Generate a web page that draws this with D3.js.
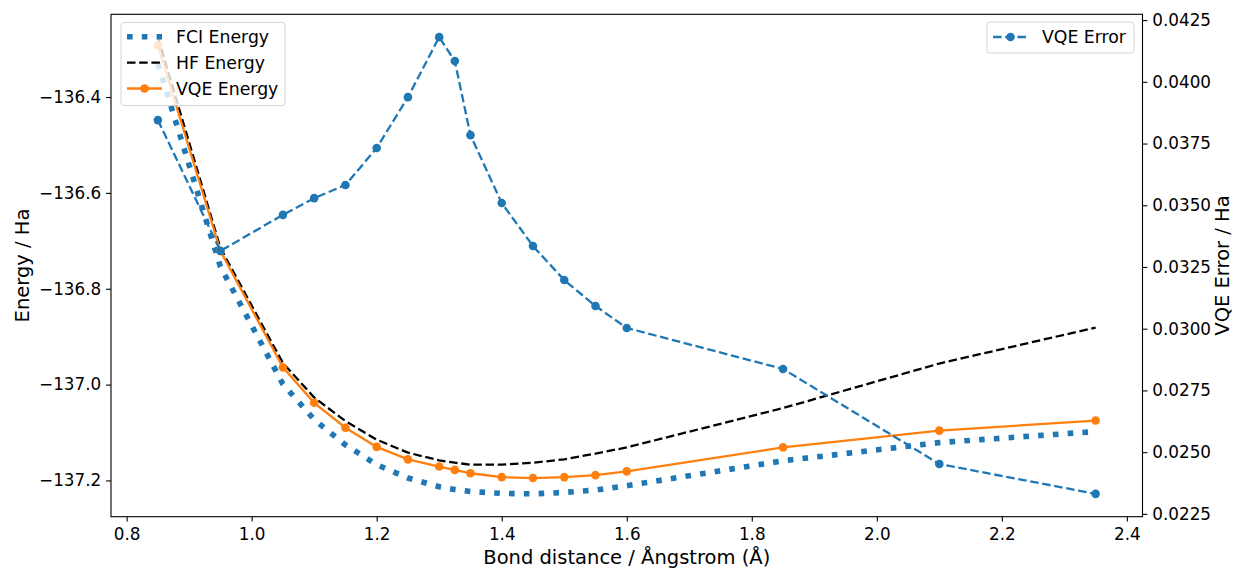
<!DOCTYPE html>
<html>
<head>
<meta charset="utf-8">
<script src="https://cdn.jsdelivr.net/npm/d3@7"></script>
<style>
	body { margin: 0; background: #fff; }
	text { font-family: "DejaVu Sans", sans-serif; fill: #000; }
</style>
</head>
<body>
<div id="chart"></div>
<script>
// bond distances (Å)
const bondDistances = [0.85, 0.95, 1.05, 1.10, 1.15, 1.20, 1.25, 1.30, 1.325, 1.35, 1.40, 1.45, 1.50, 1.55, 1.60, 1.85, 2.10, 2.35];

// energies (Ha)
const fciEnergy = [-136.330, -136.754, -136.999, -137.073, -137.126, -137.167, -137.195, -137.213, -137.219, -137.223, -137.227, -137.228, -137.225, -137.220, -137.211, -137.159, -137.121, -137.098];
const hfEnergy = [-136.275, -136.715, -136.955, -137.027, -137.076, -137.115, -137.142, -137.158, -137.163, -137.167, -137.167, -137.163, -137.156, -137.144, -137.131, -137.049, -136.956, -136.881];
const vqeEnergy = [-136.292, -136.721, -136.964, -137.038, -137.090, -137.130, -137.156, -137.171, -137.178, -137.185, -137.193, -137.195, -137.193, -137.189, -137.181, -137.131, -137.096, -137.075];

// VQE error (Ha), right axis
const vqeError = [0.03845, 0.03315, 0.03461, 0.03529, 0.03582, 0.03732, 0.03938, 0.04181, 0.04084, 0.03784, 0.03509, 0.03335, 0.03197, 0.03092, 0.03003, 0.02837, 0.02452, 0.02331];

// ticks
const xTicks = [0.8, 1.0, 1.2, 1.4, 1.6, 1.8, 2.0, 2.2, 2.4];
const energyTicks = [-137.2, -137.0, -136.8, -136.6, -136.4];
const errorTicks = [0.0225, 0.0250, 0.0275, 0.0300, 0.0325, 0.0350, 0.0375, 0.0400, 0.0425];

const width = 1238;
const height = 570;
const plot = { left: 111, right: 1142.5, top: 14.3, bottom: 516.7 };

const blue = '#1f77b4';
const orange = '#ff7f0e';
const tickFont = 16.8;
const labelFont = 19.5;
const legendFont = 17.3;
const lw = 2.3;
const dashed = '8.5,3.7';
const dotted = '5.6,9.2';
const markerR = 4.3;

// matplotlib style 5% padding
function padded (values) {
	const [lo, hi] = d3.extent(values);
	const m = (hi - lo) * 0.05;
	return [lo - m, hi + m];
}

const x = d3.scaleLinear()
	.domain(padded(bondDistances))
	.range([plot.left, plot.right]);

const yEnergy = d3.scaleLinear()
	.domain(padded(fciEnergy.concat(hfEnergy, vqeEnergy)))
	.range([plot.bottom, plot.top]);

const yError = d3.scaleLinear()
	.domain(padded(vqeError))
	.range([plot.bottom, plot.top]);

const svg = d3.select('#chart')
	.append('svg')
	.attr('width', width)
	.attr('height', height);

svg.append('rect')
	.attr('width', width)
	.attr('height', height)
	.attr('fill', '#fff');

const toPoints = (ys) => bondDistances.map((d, i) => [d, ys[i]]);

const energyLine = d3.line()
	.x((d) => x(d[0]))
	.y((d) => yEnergy(d[1]));

const errorLine = d3.line()
	.x((d) => x(d[0]))
	.y((d) => yError(d[1]));

const energyLayer = svg.append('g');

// FCI - thick dotted
energyLayer.append('path')
	.attr('d', energyLine(toPoints(fciEnergy)))
	.attr('fill', 'none')
	.attr('stroke', blue)
	.attr('stroke-width', 5.6)
	.attr('stroke-dasharray', dotted);

// HF - black dashed
energyLayer.append('path')
	.attr('d', energyLine(toPoints(hfEnergy)))
	.attr('fill', 'none')
	.attr('stroke', '#000')
	.attr('stroke-width', lw)
	.attr('stroke-dasharray', dashed);

// VQE energy - solid + markers
energyLayer.append('path')
	.attr('d', energyLine(toPoints(vqeEnergy)))
	.attr('fill', 'none')
	.attr('stroke', orange)
	.attr('stroke-width', lw);

energyLayer.selectAll('circle')
	.data(toPoints(vqeEnergy))
	.enter()
	.append('circle')
	.attr('cx', (d) => x(d[0]))
	.attr('cy', (d) => yEnergy(d[1]))
	.attr('r', markerR)
	.attr('fill', orange);

// legend drawing helper
function legend (g, box, rows) {
	g.append('rect')
		.attr('x', box.x)
		.attr('y', box.y)
		.attr('width', box.w)
		.attr('height', box.h)
		.attr('rx', 3)
		.attr('fill', '#fff')
		.attr('fill-opacity', 0.8)
		.attr('stroke', '#ccc')
		.attr('stroke-opacity', 0.8)
		.attr('stroke-width', 1);

	rows.forEach((row, i) => {
		const cy = box.rowY[i];
		const x0 = box.x + 6;
		const x1 = x0 + 35;
		g.append('line')
			.attr('x1', x0)
			.attr('x2', x1)
			.attr('y1', cy)
			.attr('y2', cy)
			.attr('stroke', row.color)
			.attr('stroke-width', row.width)
			.attr('stroke-dasharray', row.dash || null);
		if (row.marker) {
			g.append('circle')
				.attr('cx', (x0 + x1) / 2)
				.attr('cy', cy)
				.attr('r', markerR)
				.attr('fill', row.color);
		}
		g.append('text')
			.attr('x', x1 + 14)
			.attr('y', cy)
			.attr('dy', '0.36em')
			.attr('font-size', legendFont)
			.text(row.label);
	});
}

legend(svg.append('g'), { x: 121, y: 22.5, w: 164, h: 83, rowY: [36.7, 62.6, 88.5] }, [
	{ label: 'FCI Energy', color: blue, width: 5.6, dash: dotted },
	{ label: 'HF Energy', color: '#000', width: lw, dash: dashed },
	{ label: 'VQE Energy', color: orange, width: lw, marker: true }
]);

// VQE error on twin axis, drawn above the left legend
const errorLayer = svg.append('g');

errorLayer.append('path')
	.attr('d', errorLine(toPoints(vqeError)))
	.attr('fill', 'none')
	.attr('stroke', blue)
	.attr('stroke-width', lw)
	.attr('stroke-dasharray', dashed);

errorLayer.selectAll('circle')
	.data(toPoints(vqeError))
	.enter()
	.append('circle')
	.attr('cx', (d) => x(d[0]))
	.attr('cy', (d) => yError(d[1]))
	.attr('r', markerR)
	.attr('fill', blue);

legend(svg.append('g'), { x: 987, y: 22, w: 147, h: 31, rowY: [37] }, [
	{ label: 'VQE Error', color: blue, width: lw, dash: dashed, marker: true }
]);

// axes
const xAxis = svg.append('g')
	.attr('transform', `translate(0,${plot.bottom})`)
	.call(d3.axisBottom(x).tickValues(xTicks).tickFormat(d3.format('.1f')).tickSizeOuter(0).tickSize(4.9).tickPadding(4.9));

const leftAxis = svg.append('g')
	.attr('transform', `translate(${plot.left},0)`)
	.call(d3.axisLeft(yEnergy).tickValues(energyTicks).tickFormat(d3.format('.1f')).tickSizeOuter(0).tickSize(4.9).tickPadding(4.9));

const rightAxis = svg.append('g')
	.attr('transform', `translate(${plot.right},0)`)
	.call(d3.axisRight(yError).tickValues(errorTicks).tickFormat(d3.format('.4f')).tickSizeOuter(0).tickSize(4.9).tickPadding(4.9));

[xAxis, leftAxis, rightAxis].forEach((a) => {
	a.select('.domain').remove();
	a.selectAll('line').attr('stroke', '#000').attr('stroke-width', 1.1);
	a.selectAll('text')
		.attr('font-size', tickFont)
		.attr('font-family', '"DejaVu Sans", sans-serif')
		.attr('fill', '#000');
});

xAxis.selectAll('text').attr('dy', '0.78em');

// frame
svg.append('rect')
	.attr('x', plot.left)
	.attr('y', plot.top)
	.attr('width', plot.right - plot.left)
	.attr('height', plot.bottom - plot.top)
	.attr('fill', 'none')
	.attr('stroke', '#000')
	.attr('stroke-width', 1.1);

// labels
svg.append('text')
	.attr('x', (plot.left + plot.right) / 2)
	.attr('y', 564)
	.attr('text-anchor', 'middle')
	.attr('font-size', labelFont)
	.text('Bond distance / Ångstrom (Å)');

svg.append('text')
	.attr('transform', `translate(29,${(plot.top + plot.bottom) / 2}) rotate(-90)`)
	.attr('text-anchor', 'middle')
	.attr('font-size', labelFont)
	.text('Energy / Ha');

svg.append('text')
	.attr('transform', `translate(1229,${(plot.top + plot.bottom) / 2}) rotate(-90)`)
	.attr('text-anchor', 'middle')
	.attr('font-size', labelFont)
	.text('VQE Error / Ha');
</script>
</body>
</html>
